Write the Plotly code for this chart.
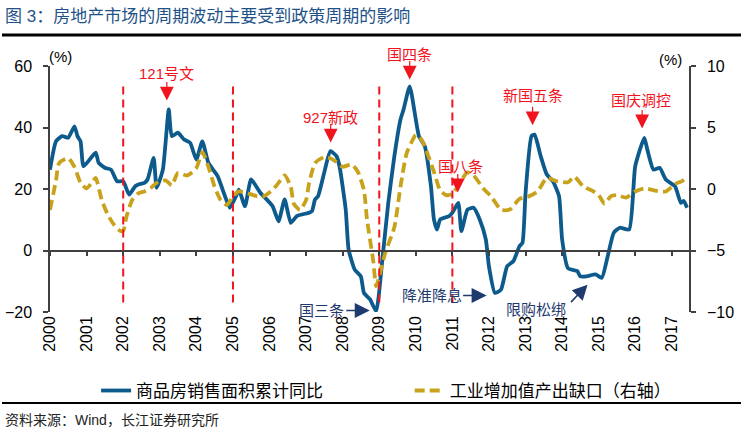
import plotly.graph_objects as go

# ---------------- data ----------------
sales_dates = [
    "2000-01", "2000-03", "2000-05", "2000-07", "2000-09", "2000-10", "2000-11", "2000-12",
    "2001-04", "2001-05", "2001-07", "2001-09", "2001-11", "2002-01", "2002-03", "2002-05",
    "2002-06", "2002-08", "2002-09", "2002-11", "2002-12", "2003-02", "2003-04", "2003-05",
    "2003-07", "2003-09", "2003-11", "2004-01", "2004-03", "2004-05", "2004-08", "2004-10",
    "2004-12", "2005-02", "2005-03", "2005-05", "2005-07", "2005-10", "2006-02", "2006-04",
    "2006-06", "2006-08", "2006-10", "2007-02", "2007-03", "2007-04", "2007-05", "2007-07",
    "2007-09", "2007-11", "2007-12", "2008-02", "2008-03", "2008-05", "2008-07", "2008-08",
    "2008-10", "2008-12", "2009-02", "2009-04", "2009-06", "2009-08", "2009-09", "2009-11",
    "2010-01", "2010-02", "2010-04", "2010-06", "2010-07", "2010-08", "2010-09", "2010-12",
    "2011-01", "2011-03", "2011-04", "2011-06", "2011-08", "2011-10", "2011-12", "2012-01",
    "2012-03", "2012-05", "2012-07", "2012-09", "2012-11", "2012-12", "2013-01", "2013-03",
    "2013-04", "2013-06", "2013-08", "2013-10", "2013-12", "2014-01", "2014-03", "2014-06",
    "2014-07", "2014-09", "2014-12", "2015-02", "2015-04", "2015-06", "2015-08", "2015-11",
    "2016-01", "2016-04", "2016-05", "2016-07", "2016-09", "2016-11", "2017-02", "2017-04",
    "2017-05", "2017-06",
]
sales_yoy = [
    26.3, 35.5, 37.2, 36.7, 40.4, 37.2, 35.5, 27.4,
    31.8, 28.5, 26.9, 26.3, 22.5, 22.5, 18.2, 20.9,
    21.5, 22.0, 23.1, 30.1, 20.4, 26.3, 45.9, 37.2,
    38.3, 36.1, 35.0, 29.6, 35.5, 28.5, 24.2, 18.8,
    13.9, 17.7, 19.8, 14.4, 23.1, 18.8, 14.4, 9.5,
    16.6, 9.0, 11.2, 12.3, 12.8, 16.6, 17.7, 25.3,
    32.3, 30.7, 27.4, 13.3, 0.3, -6.2, -8.4, -13.8,
    -15.9, -19.7, -2.9, 15.5, 30.7, 42.6, 45.9, 53.4,
    42.6, 37.2, 33.9, 20.9, 10.1, 6.8, 10.1, 11.2,
    12.3, 15.5, 6.3, 13.3, 13.9, 10.1, 3.6, -5.1,
    -13.8, -12.7, -5.1, -3.5, 1.4, 2.5, 18.8, 37.2,
    37.7, 30.7, 24.7, 22.5, 17.7, 3.6, -5.8, -6.7,
    -8.4, -8.4, -7.8, -8.9, -1.9, 5.8, 7.4, 6.8,
    27.4, 36.6, 32.8, 26.3, 26.9, 23.1, 20.9, 15.5,
    16.1, 13.9,
]

gap_dates = [
    "2000-01", "2000-03", "2000-04", "2000-07", "2000-09", "2000-11", "2001-01", "2001-03",
    "2001-04", "2001-06", "2001-08", "2001-10", "2001-12", "2002-01", "2002-02", "2002-04",
    "2002-06", "2002-08", "2002-10", "2002-12", "2003-03", "2003-05", "2003-07", "2003-10",
    "2004-01", "2004-03", "2004-05", "2004-07", "2004-09", "2004-11", "2005-01", "2005-03",
    "2005-06", "2005-09", "2005-11", "2006-02", "2006-04", "2006-06", "2006-08", "2006-09",
    "2006-11", "2007-01", "2007-02", "2007-04", "2007-07", "2007-09", "2007-11", "2008-01",
    "2008-04", "2008-06", "2008-08", "2008-09", "2008-11", "2008-12", "2009-01", "2009-03",
    "2009-06", "2009-08", "2009-10", "2009-12", "2010-01", "2010-03", "2010-05", "2010-07",
    "2010-09", "2010-11", "2011-01", "2011-03", "2011-06", "2011-08", "2011-11", "2012-02",
    "2012-05", "2012-08", "2012-11", "2013-02", "2013-05", "2013-08", "2013-11", "2014-03",
    "2014-05", "2014-08", "2014-11", "2015-01", "2015-03", "2015-05", "2015-07", "2015-10",
    "2016-01", "2016-04", "2016-08", "2016-11", "2017-02", "2017-04", "2017-06",
]
output_gap = [
    -1.7, 0.7, 2.1, 2.5, 1.8, 0.5, 0.06, 0.6,
    0.9, -0.9, -2.1, -2.9, -3.4, -3.4, -2.3, -0.9,
    -0.35, -0.2, 0.06, 0.5, 0.7, 0.3, 1.3, 1.1,
    1.7, 3.0, 1.8, 0.2, -0.9, -1.3, -0.6, -0.2,
    -0.35, -0.6, -0.6, -0.08, 0.5, 1.1, 0.2, -1.2,
    -1.7, -0.9, 0.5, 2.1, 2.6, 2.5, 2.2, 1.8,
    2.0, 1.4, -0.1, -2.5, -5.8, -7.9, -7.1, -5.2,
    -3.1, 0.2, 2.9, 4.0, 4.4, 4.0, 2.8, 1.4,
    -0.1, -0.5, -0.4, 0.3, 1.35, 1.1, 0.1, -0.7,
    -1.7, -1.65, -0.8, -0.6, -0.2, 0.9, 0.65, 0.55,
    1.0, 0.2, -0.15, -0.5, -1.2, -0.6, -0.5, -0.7,
    -0.2, 0.05, -0.15, -0.2, 0.4, 0.6, 0.9,
]

year_ticks = [str(y) for y in range(2000, 2018)]
policy_years = ["2002-01-01", "2005-01-01", "2009-01-01", "2011-01-01"]

# policy labels: text, text date, text y (paper fraction), arrow-tip date, arrow-tip y
red_labels = [
    ("121号文", "2003-03-13", 0.970, "2003-03-13", 48.8),
    ("927新政", "2007-09-04", 0.789, "2007-09-04", 35.1),
    ("国四条", "2009-11-01", 1.045, "2009-11-01", 55.6),
    ("国八条", "2011-03-24", 0.593, "2011-02-24", 18.9),
    ("新国五条", "2013-03-12", 0.882, "2013-03-12", 40.7),
    ("国庆调控", "2016-03-03", 0.858, "2016-03-10", 39.7),
]
navy_labels = [
    ("国三条", "2007-06-06", -19.5, "2008-09-28", -19.5, -25, 0),
    ("降准降息", "2010-06-07", -14.6, "2011-12-09", -14.6, -25, 0),
    ("限购松绑", "2013-04-20", -19.2, "2014-09-12", -11.1, -18, 19),
]

BLUE = "#0d5a8c"
GOLD = "#c9a21c"
RED = "#f0141e"
NAVY = "#1f3a6e"
FONT = "Liberation Sans, Noto Sans CJK SC, sans-serif"

fig = go.Figure()
fig.add_trace(go.Scatter(
    x=sales_dates, y=sales_yoy, name="商品房销售面积累计同比",
    mode="lines", line=dict(color=BLUE, width=3.8, shape="spline", smoothing=0.5),
    xaxis="x", yaxis="y", legend="legend",
))
fig.add_trace(go.Scatter(
    x=gap_dates, y=output_gap, name="工业增加值产出缺口（右轴）",
    mode="lines", line=dict(color=GOLD, width=3.8, dash="10px,5px", shape="spline", smoothing=0.6),
    xaxis="x2", yaxis="y2", legend="legend2",
))

xr = ["2000-01-01", "2017-07-01"]
legend_common = dict(orientation="h", xanchor="left", y=-0.321, yanchor="middle",
                     font=dict(size=17, color="black"), bgcolor="rgba(0,0,0,0)")
fig.update_layout(
    width=741, height=433,
    margin=dict(l=50, r=51, t=66, b=121, autoexpand=False),
    paper_bgcolor="white", plot_bgcolor="white",
    font=dict(family=FONT, size=16, color="black"),
    showlegend=True,
    legend=dict(x=0.072, **legend_common),
    legend2=dict(x=0.562, **legend_common),
    xaxis=dict(type="date", range=xr, tickvals=[y + "-01-01" for y in year_ticks], ticktext=year_ticks,
               tickangle=-90, showline=False, ticks="", showgrid=False, zeroline=False,
               tickfont=dict(size=16), anchor="y", automargin=False),
    xaxis2=dict(type="date", range=xr, overlaying="x", anchor="free", position=0.25, side="bottom",
                tickvals=[y + "-01-01" for y in year_ticks], showticklabels=False,
                showline=True, linecolor="#404040", linewidth=1.5,
                ticks="outside", ticklen=5, tickcolor="#404040", tickwidth=1.5, showgrid=False,
                zeroline=False, automargin=False),
    yaxis=dict(range=[-20, 60], tickvals=[-20, 0, 20, 40, 60], showline=True, linecolor="#404040",
               linewidth=1.5, ticks="outside", ticklen=5, tickcolor="#404040", tickwidth=1.5,
               showgrid=False, zeroline=False, tickfont=dict(size=16), ticklabelstandoff=8,
               automargin=False),
    yaxis2=dict(range=[-10, 10], tickvals=[-10, -5, 0, 5, 10], overlaying="y", side="right",
                anchor="free", position=1.0, showline=True, linecolor="#404040", linewidth=1.5,
                ticks="outside", ticklen=5, tickcolor="#404040", tickwidth=1.5,
                showgrid=False, zeroline=False, tickfont=dict(size=16), ticklabelstandoff=8,
                automargin=False),
)

# policy-change vertical dashed lines
for d in policy_years:
    fig.add_shape(type="line", xref="x", yref="y", x0=d, x1=d, y0=-16.9, y1=54.6,
                  line=dict(color=RED, width=2, dash="8px,5px"), layer="above")

for text, tx, ty, ax_d, ay_v in red_labels:
    fig.add_annotation(x=tx, y=ty, xref="x", yref="paper", text=text, showarrow=False,
                       font=dict(size=15, color=RED), yanchor="middle")
    fig.add_annotation(x=ax_d, y=ay_v, xref="x", yref="y", text="", showarrow=True,
                       ax=0, ay=-20, arrowhead=2, arrowsize=2.3, arrowwidth=1.2, arrowcolor=RED)

for text, tx, ty, ax_d, ay_v, dx, dy in navy_labels:
    fig.add_annotation(x=tx, y=ty, xref="x", yref="y", text=text, showarrow=False,
                       font=dict(size=15, color=NAVY))
    fig.add_annotation(x=ax_d, y=ay_v, xref="x", yref="y", text="", showarrow=True,
                       ax=dx, ay=dy, arrowhead=2, arrowsize=2.0, arrowwidth=1.5, arrowcolor=NAVY)

# unit labels
fig.add_annotation(x=0.016, y=1.04, xref="paper", yref="paper", text="(%)", showarrow=False,
                   font=dict(size=15), xanchor="center", yanchor="middle")
fig.add_annotation(x=0.969, y=1.025, xref="paper", yref="paper", text="(%)", showarrow=False,
                   font=dict(size=15), xanchor="center", yanchor="middle")

# title, rules, source
fig.add_annotation(x=-0.073, y=1.203, xref="paper", yref="paper", xanchor="left", yanchor="middle",
                   text="图 3：房地产市场的周期波动主要受到政策周期的影响", showarrow=False,
                   font=dict(size=17, color="#1e5288"))
fig.add_shape(type="line", xref="paper", yref="paper", x0=-0.075, x1=1.08, y0=1.126, y1=1.126,
              line=dict(color="black", width=3))
fig.add_shape(type="line", xref="paper", yref="paper", x0=-0.075, x1=1.08, y0=-0.370, y1=-0.370,
              line=dict(color="black", width=2))
fig.add_annotation(x=-0.073, y=-0.44, xref="paper", yref="paper", xanchor="left", yanchor="middle",
                   text="资料来源：Wind，长江证券研究所", showarrow=False,
                   font=dict(size=14, color="#222222"))

fig.write_html("out.html", config={"displayModeBar": False},
               post_script="document.body.style.margin='0';")
